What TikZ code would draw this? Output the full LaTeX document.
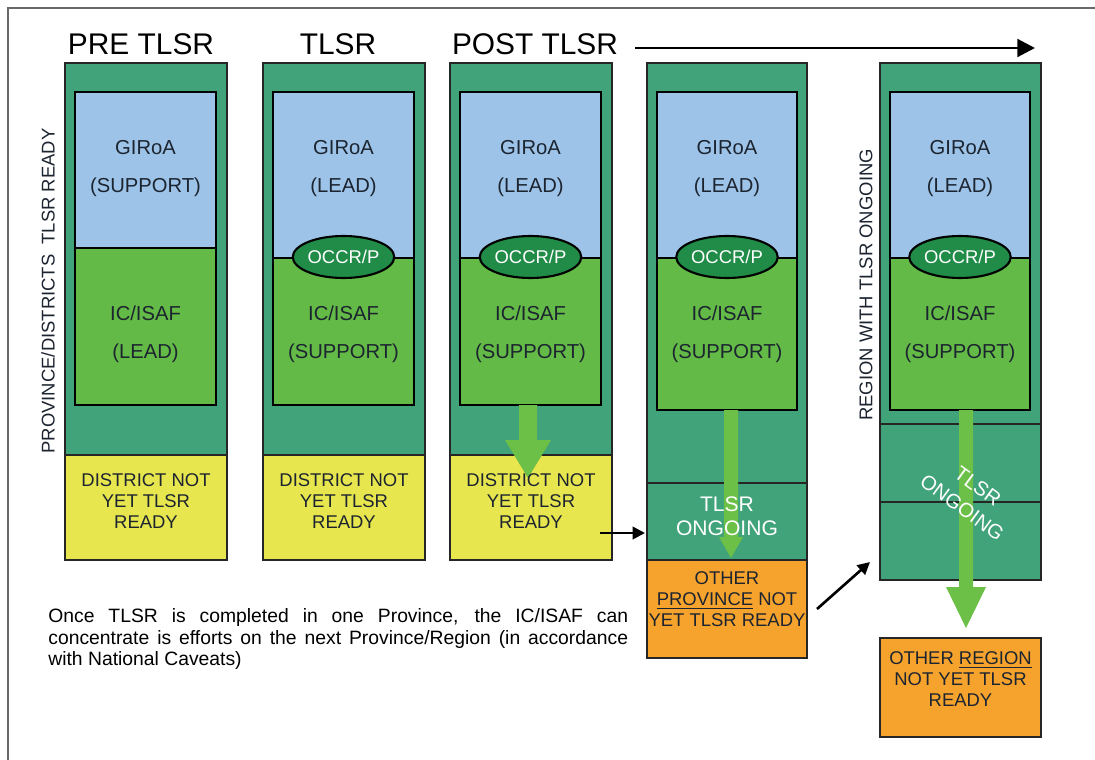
\documentclass[tikz,border=0pt]{standalone}
\usepackage{fontspec}
\setmainfont{Liberation Sans}
\usepackage{xcolor}
\usetikzlibrary{arrows.meta, shapes.geometric}
\definecolor{verdeosc}{RGB}{64,163,122}
\definecolor{azul}{RGB}{157,196,232}
\definecolor{verde}{RGB}{99,186,70}
\definecolor{verdeeli}{RGB}{32,140,72}
\definecolor{amarillo}{RGB}{232,230,78}
\definecolor{naranja}{RGB}{246,163,45}
\definecolor{flecha}{RGB}{108,192,72}
\definecolor{marco}{RGB}{105,105,105}
\definecolor{texto}{RGB}{28,36,48}

\begin{document}
\begin{tikzpicture}[x=0.02cm, y=-0.02cm,
  exterior/.style={draw=black!85, line width=0.9pt, fill=verdeosc},
  interior/.style={draw=black, line width=1.6pt},
  caja/.style={draw=black!85, line width=0.9pt},
  titulo/.style={font=\fontsize{17}{20}\selectfont, text=black},
  rol/.style={font=\fontsize{11.5}{21.6}\selectfont, text=texto, align=center},
  aviso/.style={font=\fontsize{10.5}{12}\selectfont, text=texto, align=center},
  lateral/.style={font=\fontsize{10.5}{12}\selectfont, text=texto},
  occr/.style={ellipse, draw=black, line width=1.2pt, fill=verdeeli, text=white,
    minimum width=1.8cm, minimum height=0.84cm, inner sep=0pt,
    font=\fontsize{10.5}{12}\selectfont},
  ongoing/.style={font=\fontsize{12}{13.7}\selectfont, text=white, align=center},
  flechanegra/.style={line width=1.7pt, -{Triangle[length=10pt, width=10pt]}},
  flechachica/.style={line width=1.5pt, -{Triangle[length=7pt, width=7pt]}}]
\useasboundingbox (0,0) rectangle (1095,760);
% Marco
\draw[marco, line width=1.4pt] (8,760) -- (8,8) -- (1095,8);

% Titulos
\node[titulo] (pre) at (141,44) {PRE TLSR};
\node[titulo] (tlsr) at (338,44) {TLSR};
\node[titulo] (post) at (535,44) {POST TLSR};
\coordinate (ejeini) at (635,48);
\coordinate (ejefin) at (1035,48);
\draw[flechanegra] (ejeini) -- (ejefin);

% Columna 1 (PRE TLSR)
\draw[exterior] (65,63) rectangle (227,455);
\draw[interior, fill=azul] (75,92) rectangle (216,248);
\draw[interior, fill=verde] (75,248) rectangle (216,405);
\draw[caja, fill=amarillo] (65,455) rectangle (227,560);
\node[rol] (giroa1) at (145.5,169) {GIRoA\\(SUPPORT)};
\node[rol] (isaf1) at (145.5,334) {IC/ISAF\\(LEAD)};
\node[aviso] (dist1) at (146,501) {DISTRICT NOT\\YET TLSR\\READY};
\node[lateral, rotate=90] (prov) at (48,291) {PROVINCE/DISTRICTS\ \ TLSR READY};

% Columna 2 (TLSR)
\draw[exterior] (263,63) rectangle (425,455);
\draw[interior, fill=azul] (273,92) rectangle (414,258);
\draw[interior, fill=verde] (273,258) rectangle (414,405);
\draw[caja, fill=amarillo] (263,455) rectangle (425,560);
\node[rol] (giroa2) at (343.5,169) {GIRoA\\(LEAD)};
\node[rol] (isaf2) at (343.5,334) {IC/ISAF\\(SUPPORT)};
\node[occr] (occr2) at (343.5,257) {OCCR/P};
\node[aviso] (dist2) at (344,501) {DISTRICT NOT\\YET TLSR\\READY};

% Columna 3 (POST TLSR)
\draw[exterior] (450,63) rectangle (612,455);
\draw[interior, fill=azul] (460,92) rectangle (601,258);
\draw[interior, fill=verde] (460,258) rectangle (601,405);
\draw[caja, fill=amarillo] (450,455) rectangle (612,560);
\node[rol] (giroa3) at (530.5,169) {GIRoA\\(LEAD)};
\node[rol] (isaf3) at (530.5,334) {IC/ISAF\\(SUPPORT)};
\node[occr] (occr3) at (530.5,257) {OCCR/P};
\fill[flecha] (519,405) -- (537,405) -- (537,440) -- (551,440) -- (528,478)
  -- (505,440) -- (519,440) -- cycle;
\node[aviso] (dist3) at (531,501) {DISTRICT NOT\\YET TLSR\\READY};

% Columna 4
\draw[exterior] (647,63) rectangle (807,483);
\draw[exterior] (647,483) rectangle (807,560);
\draw[interior, fill=azul] (657,92) rectangle (797,258);
\draw[interior, fill=verde] (657,258) rectangle (797,410);
\draw[caja, fill=naranja] (647,560) rectangle (807,658);
\node[rol] (giroa4) at (727,169) {GIRoA\\(LEAD)};
\node[rol] (isaf4) at (727,334) {IC/ISAF\\(SUPPORT)};
\node[occr] (occr4) at (727,257) {OCCR/P};
\fill[flecha] (724,410) -- (738,410) -- (738,537) -- (743,537) -- (731,558)
  -- (719,537) -- (724,537) -- cycle;
\node[ongoing] (ong4) at (727,516) {TLSR\\ONGOING};
\node[aviso] (otra4) at (727,599) {OTHER\\\underline{PROVINCE} NOT\\YET TLSR READY};
\coordinate (sal3) at (600,533);
\coordinate (ent4) at (645,533);
\draw[flechachica] (sal3) -- (ent4);

% Columna 5
\draw[exterior] (880,63) rectangle (1041,424);
\draw[exterior] (880,424) rectangle (1041,502);
\draw[exterior] (880,502) rectangle (1041,580);
\draw[interior, fill=azul] (890,92) rectangle (1030,258);
\draw[interior, fill=verde] (890,258) rectangle (1030,410);
\draw[caja, fill=naranja] (880,638) rectangle (1041,737);
\node[rol] (giroa5) at (960,169) {GIRoA\\(LEAD)};
\node[rol] (isaf5) at (960,334) {IC/ISAF\\(SUPPORT)};
\node[occr] (occr5) at (960,257) {OCCR/P};
\fill[flecha] (959,410) -- (973,410) -- (973,587) -- (986,587) -- (966,628)
  -- (946,587) -- (959,587) -- cycle;
\node[ongoing, rotate=-36, font=\fontsize{11.5}{15}\selectfont] (ong5) at (970,497) {TLSR\\ONGOING};
\node[aviso] (otra5) at (960.5,679) {OTHER \underline{REGION}\\NOT YET TLSR\\READY};
\node[lateral, rotate=90] (reg) at (866,285) {REGION WITH TLSR ONGOING};
\coordinate (sal4) at (817,609);
\coordinate (ent5) at (870,562);
\draw[flechachica] (sal4) -- (ent5);

% Texto inferior
\node[anchor=west, inner sep=0pt, text width=330pt, align=justify,
  font=\fontsize{11}{12.3}\selectfont, text=black] (nota) at (48,639)
  {\noindent Once TLSR is completed in one Province, the IC/ISAF can\linebreak
   concentrate is efforts on the next Province/Region (in accordance\linebreak
   with National Caveats)};
\end{tikzpicture}
\end{document}
